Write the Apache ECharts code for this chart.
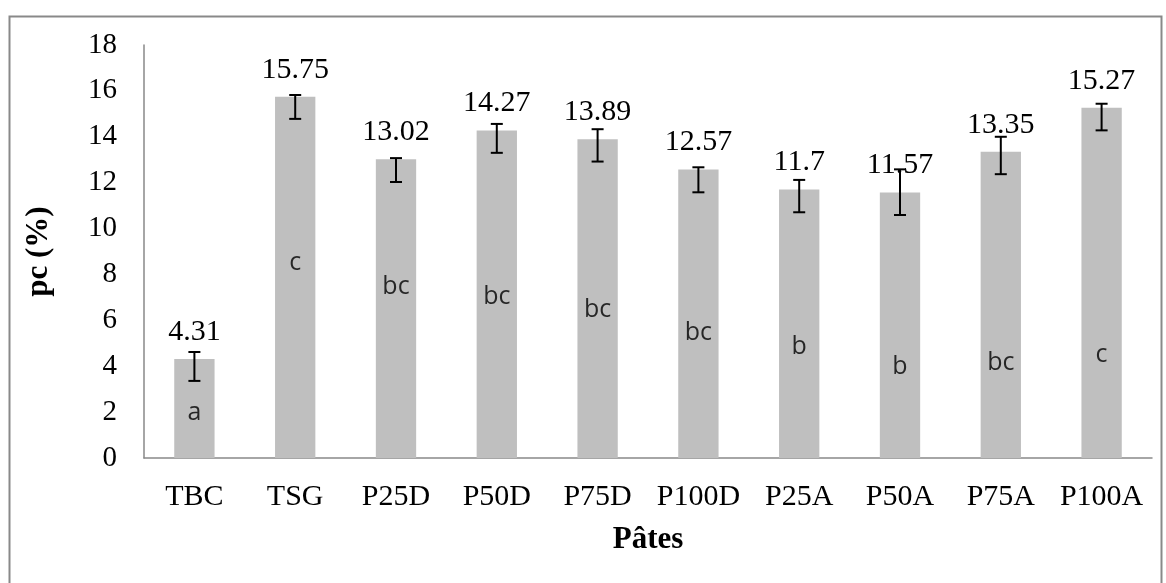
<!DOCTYPE html>
<html>
<head>
<meta charset="utf-8">
<script src="https://cdn.jsdelivr.net/npm/echarts@6/dist/echarts.min.js"></script>
<style>html,body{margin:0;padding:0;background:#fff}#c{width:1166px;height:583px}</style>
</head>
<body>
<div id="c"></div>
<script>
const categories = ['TBC','TSG','P25D','P50D','P75D','P100D','P25A','P50A','P75A','P100A'];
const values = [4.31,15.75,13.02,14.27,13.89,12.57,11.7,11.57,13.35,15.27];
const errLow = [3.36,14.78,12.03,13.30,12.92,11.58,10.71,10.59,12.37,14.28];
const errHigh = [4.62,15.82,13.07,14.56,14.33,12.67,12.12,12.58,14.00,15.44];
const letters = ['a','c','bc','bc','bc','bc','b','b','bc','c'];
const letterY = [1.96,8.50,7.45,7.02,6.45,5.45,4.84,3.97,4.14,4.49];
const yTicks = [0,2,4,6,8,10,12,14,16,18];

const serif = '"Liberation Serif","Times New Roman",serif';
const chart = echarts.init(document.getElementById('c'));
chart.setOption({
  animation: false,
  backgroundColor: '#fff',
  graphic: [{
    type: 'rect', left: 7, top: 14,
    shape: { width: 1152, height: 600 },
    style: { fill: 'none', stroke: '#898989', lineWidth: 2 },
    silent: true
  }],
  grid: { left: 144, right: 14, top: 45, bottom: 125 },
  xAxis: {
    type: 'category',
    data: categories,
    name: 'Pâtes',
    nameLocation: 'middle',
    nameGap: 66,
    nameTextStyle: { fontFamily: serif, fontSize: 31, fontWeight: 'bold', color: '#000' },
    axisLine: { lineStyle: { color: '#898989', width: 1.5 } },
    axisTick: { show: false },
    axisLabel: { fontFamily: serif, fontSize: 30, color: '#000', margin: 24, interval: 0 }
  },
  yAxis: {
    type: 'value',
    min: yTicks[0], max: yTicks[yTicks.length - 1], interval: 2,
    name: 'pc (%)',
    nameLocation: 'middle',
    nameGap: 90,
    nameRotate: 90,
    nameTextStyle: { fontFamily: serif, fontSize: 31, fontWeight: 'bold', color: '#000' },
    axisLine: { show: true, lineStyle: { color: '#898989', width: 1.5 } },
    axisTick: { show: false },
    splitLine: { show: false },
    axisLabel: { fontFamily: serif, fontSize: 29, color: '#000', margin: 27 }
  },
  series: [
    {
      type: 'bar',
      data: values,
      barWidth: '40%',
      itemStyle: { color: '#bfbfbf' },
      label: {
        show: true, position: 'top', distance: 12,
        fontFamily: serif, fontSize: 30, color: '#000'
      },
      z: 2
    },
    {
      type: 'custom',
      data: categories.map((c, i) => [i, errLow[i], errHigh[i]]),
      renderItem: function (params, api) {
        const x = api.value(0);
        const lo = api.coord([x, api.value(1)]);
        const hi = api.coord([x, api.value(2)]);
        const hw = 6;
        const st = { stroke: '#000', lineWidth: 2 };
        return {
          type: 'group',
          children: [
            { type: 'line', shape: { x1: lo[0], y1: lo[1], x2: hi[0], y2: hi[1] }, style: st },
            { type: 'line', shape: { x1: lo[0] - hw, y1: lo[1], x2: lo[0] + hw, y2: lo[1] }, style: st },
            { type: 'line', shape: { x1: hi[0] - hw, y1: hi[1], x2: hi[0] + hw, y2: hi[1] }, style: st }
          ]
        };
      },
      z: 5
    },
    {
      type: 'scatter',
      data: letterY.map((v, i) => [i, v]),
      symbolSize: 0,
      label: {
        show: true, position: 'inside',
        formatter: p => letters[p.dataIndex],
        fontFamily: '"Open Sans","Noto Sans",sans-serif', fontSize: 25, color: '#000'
      },
      z: 6
    }
  ]
});
</script>
</body>
</html>
